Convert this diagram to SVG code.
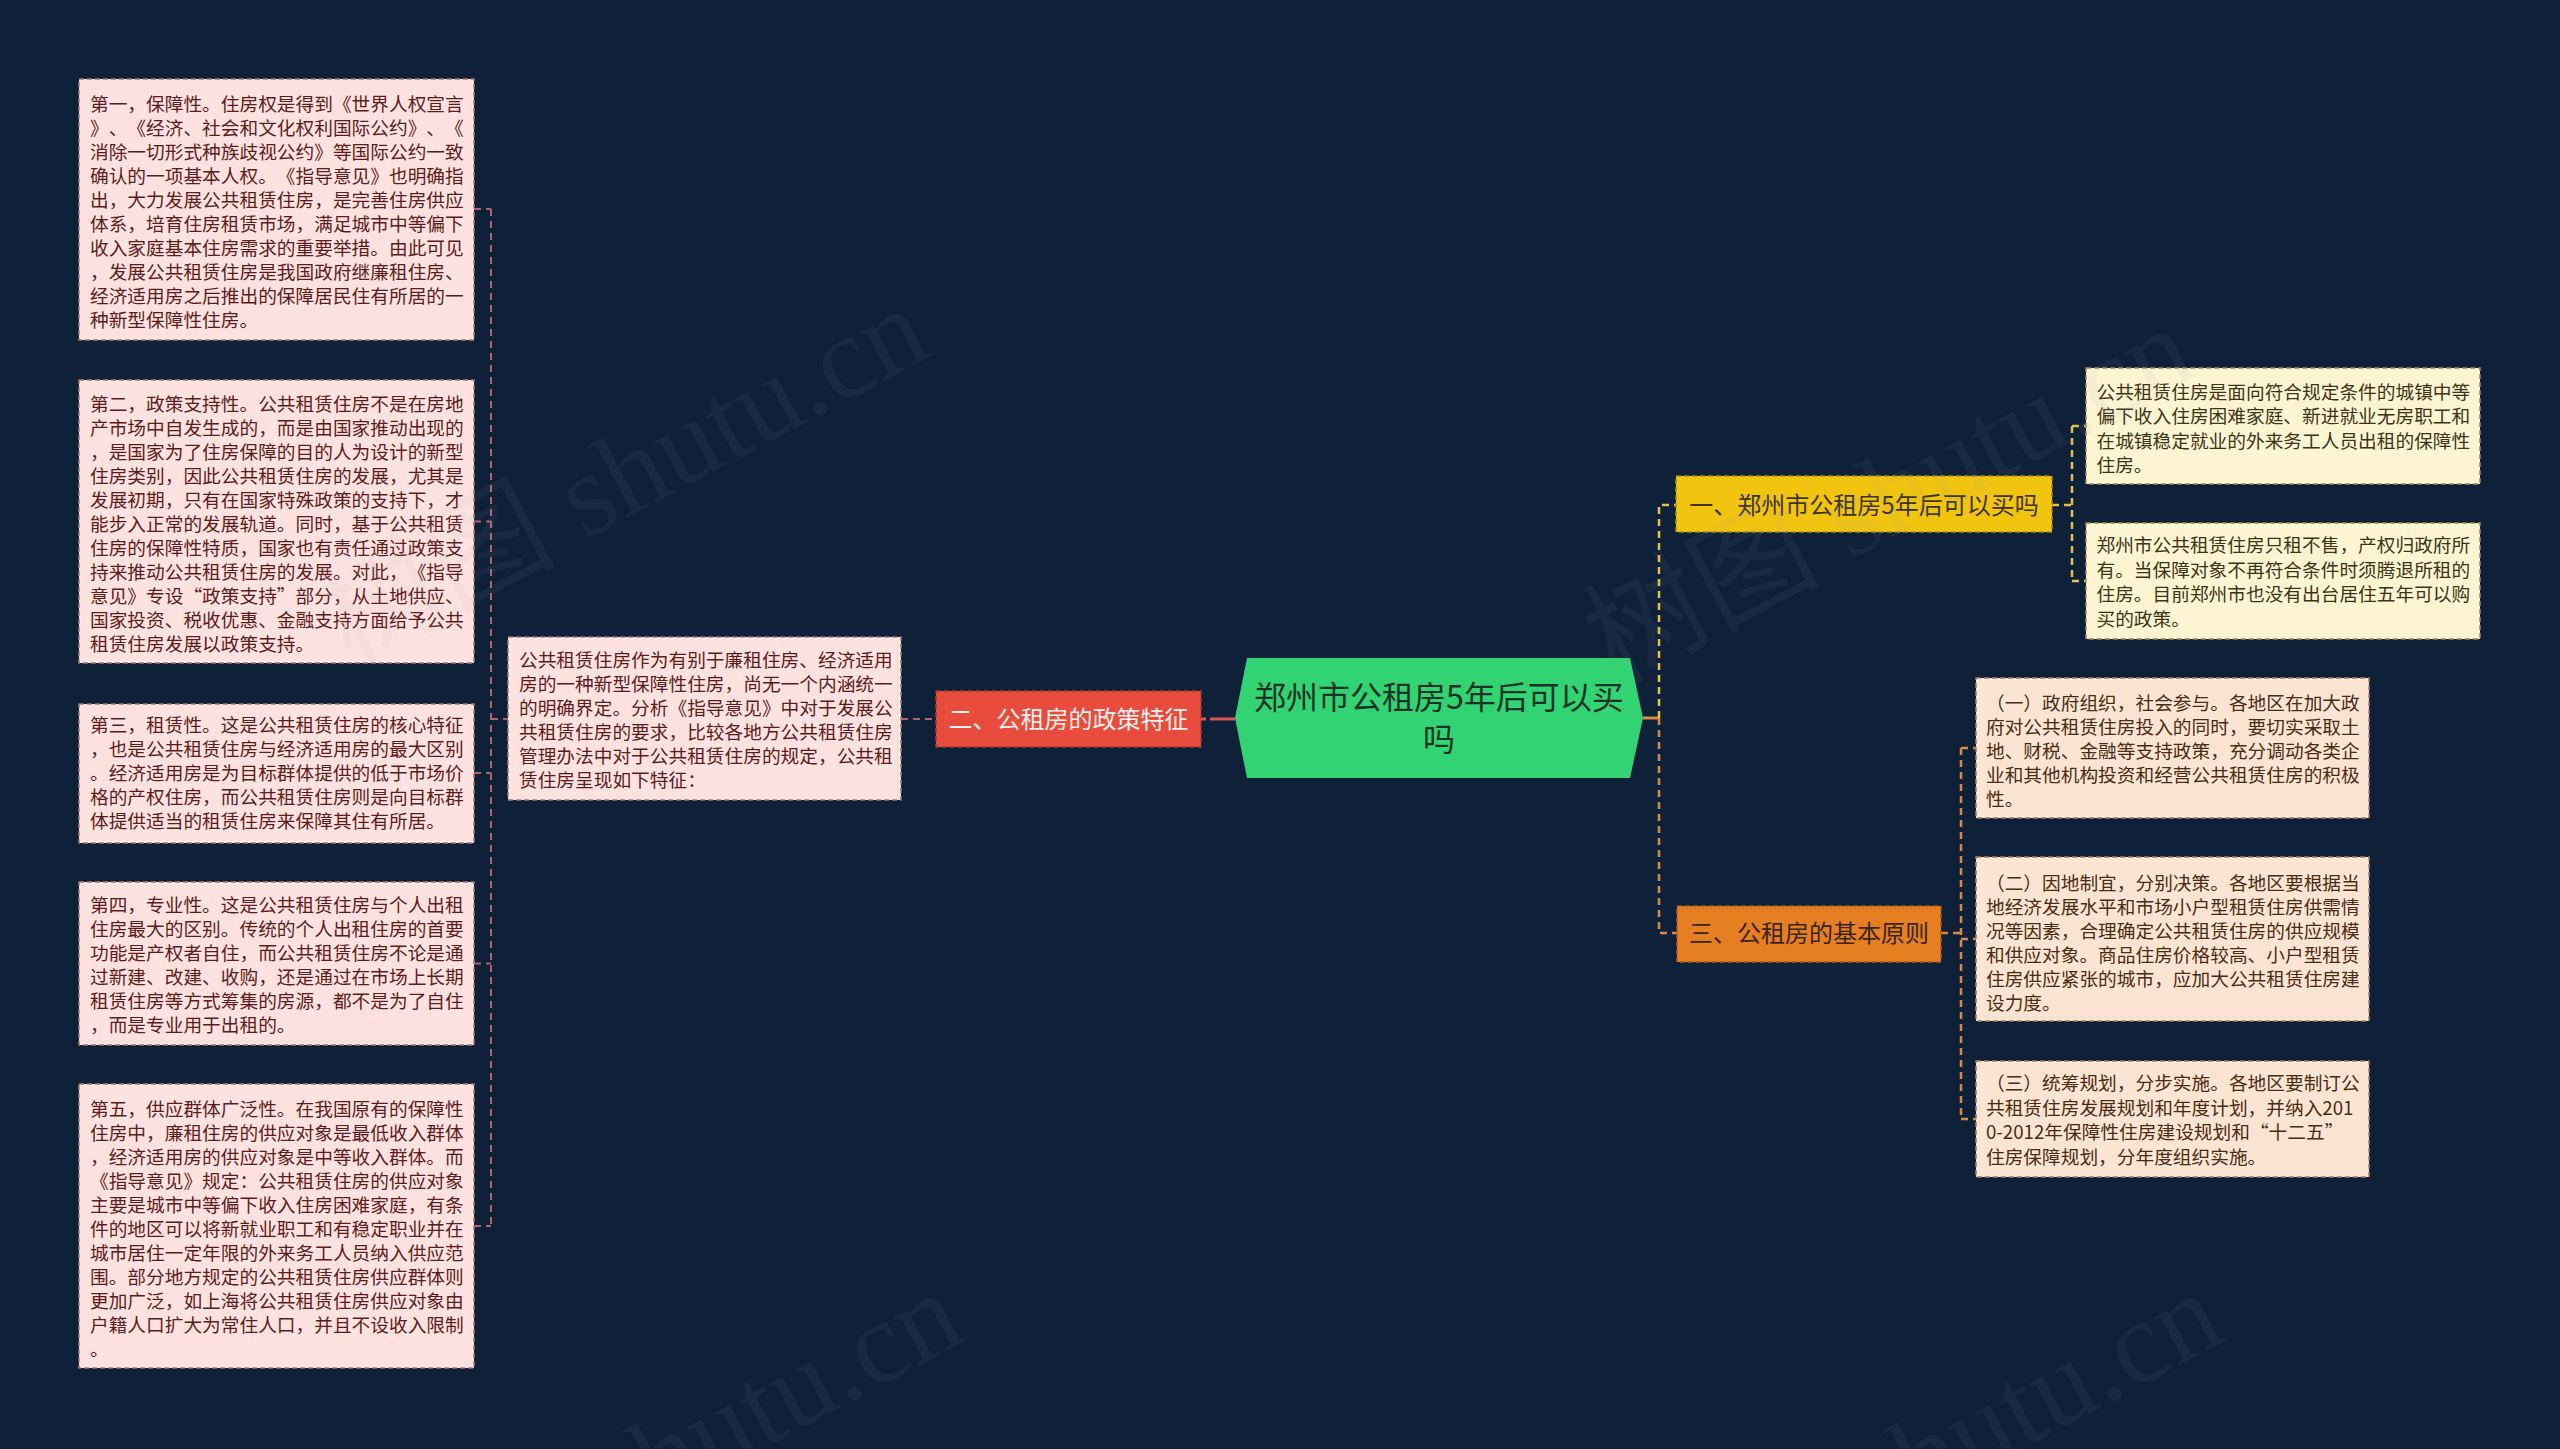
<svg xmlns="http://www.w3.org/2000/svg" width="2560" height="1449" viewBox="0 0 2560 1449">
<style>
text{text-spacing-trim:space-all;font-kerning:none}
.t{font-family:"Noto Sans CJK SC","Noto Sans",sans-serif;font-size:18.7px}
.pk rect{fill:#fde2df;stroke:#a07a7a;stroke-width:1.5;stroke-dasharray:5 3}
.pk text{fill:#5e1c1c}
.cr rect{fill:#fdf4d2;stroke:#9c8a5a;stroke-width:1.5;stroke-dasharray:5 3}
.cr text{fill:#3d3418}
.pc rect{fill:#fbe5d2;stroke:#a08060;stroke-width:1.5;stroke-dasharray:5 3}
.pc text{fill:#4a2c12}
.big{font-family:"Noto Sans CJK SC","Noto Sans",sans-serif;font-size:24px;text-anchor:middle}
.c path{fill:none}
.lr{stroke:#b0646a;stroke-width:2;stroke-dasharray:7 5}
.ly{stroke:#e2c24a;stroke-width:2.5;stroke-dasharray:7 5}
.lo{stroke:#d98a4a;stroke-width:2.5;stroke-dasharray:7 5}
.wm{font-family:"Liberation Serif","Noto Sans CJK SC",serif;font-size:118px;fill:#9aa3b5;opacity:0.07}
</style>
<rect width="2560" height="1449" fill="#0f2039"/>

<g id="connectors" class="c">
<path class="lr" d="M491 209 V1226 M474 209 H491 M474 521.5 H491 M474 773 H491 M474 963.5 H491 M474 1226 H491"/>
<path class="lr" d="M491 719 H508 M901 719 H936"/>
<path d="M1201 719 H1212" stroke="#d4584f" stroke-width="3" stroke-dasharray="5 4"/>
<path d="M1212 719 H1235" stroke="#d4584f" stroke-width="3"/>
<path d="M1643 718 H1659" stroke="#e08a3a" stroke-width="3"/>
<path class="ly" d="M1659 718 V505 H1676"/>
<path class="lo" d="M1659 718 V933 H1677"/>
<path class="ly" d="M2052 505 H2072 M2072 426 V581 M2072 426 H2086 M2072 581 H2086"/>
<path class="lo" d="M1941 933 H1961 M1961 748 V1119 M1961 748 H1976 M1961 939 H1976 M1961 1119 H1976"/>
</g>

<g id="root">
<polygon points="1235,718 1247,658 1630,658 1643,718 1630,778 1247,778" fill="#31d373"/>
<text font-family="Noto Sans CJK SC,sans-serif" font-size="32" fill="#1b3326" text-anchor="middle"><tspan x="1439" y="709">郑州市公租房5年后可以买</tspan><tspan x="1439" y="750.5">吗</tspan></text>
</g>

<g id="n-policy">
<rect x="936" y="691" width="265" height="56" fill="#e74c3c" stroke="#a8382e" stroke-width="1.5" stroke-dasharray="5 3"/>
<text class="big" x="1068.5" y="728" fill="#fdf0ee">二、公租房的政策特征</text>
</g>

<g id="n-buy">
<rect x="1676" y="476" width="376" height="56" fill="#f1c40f" stroke="#a88a10" stroke-width="1.5" stroke-dasharray="5 3"/>
<text class="big" x="1864" y="514" fill="#3d3418">一、郑州市公租房5年后可以买吗</text>
</g>

<g id="n-principle">
<rect x="1677" y="906" width="264" height="56" fill="#e67e22" stroke="#a85a18" stroke-width="1.5" stroke-dasharray="5 3"/>
<text class="big" x="1809" y="942" fill="#3a2510">三、公租房的基本原则</text>
</g>

<g id="p-intro" class="pk">
<rect x="508" y="637" width="393" height="163"/>
<text class="t"><tspan x="519" y="666.5">公共租赁住房作为有别于廉租住房、经济适用</tspan><tspan x="519" y="690.5">房的一种新型保障性住房，尚无一个内涵统一</tspan><tspan x="519" y="714.5">的明确界定。分析《指导意见》中对于发展公</tspan><tspan x="519" y="738.5">共租赁住房的要求，比较各地方公共租赁住房</tspan><tspan x="519" y="762.5">管理办法中对于公共租赁住房的规定，公共租</tspan><tspan x="519" y="786.5">赁住房呈现如下特征：</tspan></text>
</g>

<g id="p-1" class="pk">
<rect x="79" y="79" width="395" height="261"/>
<text class="t"><tspan x="90" y="110.5">第一，保障性。住房权是得到《世界人权宣言</tspan><tspan x="90" y="134.5">》、《经济、社会和文化权利国际公约》、《</tspan><tspan x="90" y="158.5">消除一切形式种族歧视公约》等国际公约一致</tspan><tspan x="90" y="182.5">确认的一项基本人权。《指导意见》也明确指</tspan><tspan x="90" y="206.5">出，大力发展公共租赁住房，是完善住房供应</tspan><tspan x="90" y="230.5">体系，培育住房租赁市场，满足城市中等偏下</tspan><tspan x="90" y="254.5">收入家庭基本住房需求的重要举措。由此可见</tspan><tspan x="90" y="278.5">，发展公共租赁住房是我国政府继廉租住房、</tspan><tspan x="90" y="302.5">经济适用房之后推出的保障居民住有所居的一</tspan><tspan x="90" y="326.5">种新型保障性住房。</tspan></text>
</g>

<g id="p-2" class="pk">
<rect x="79" y="380" width="395" height="283"/>
<text class="t"><tspan x="90" y="410.5">第二，政策支持性。公共租赁住房不是在房地</tspan><tspan x="90" y="434.5">产市场中自发生成的，而是由国家推动出现的</tspan><tspan x="90" y="458.5">，是国家为了住房保障的目的人为设计的新型</tspan><tspan x="90" y="482.5">住房类别，因此公共租赁住房的发展，尤其是</tspan><tspan x="90" y="506.5">发展初期，只有在国家特殊政策的支持下，才</tspan><tspan x="90" y="530.5">能步入正常的发展轨道。同时，基于公共租赁</tspan><tspan x="90" y="554.5">住房的保障性特质，国家也有责任通过政策支</tspan><tspan x="90" y="578.5">持来推动公共租赁住房的发展。对此，《指导</tspan><tspan x="90" y="602.5">意见》专设“政策支持”部分，从土地供应、</tspan><tspan x="90" y="626.5">国家投资、税收优惠、金融支持方面给予公共</tspan><tspan x="90" y="650.5">租赁住房发展以政策支持。</tspan></text>
</g>

<g id="p-3" class="pk">
<rect x="79" y="704" width="395" height="139"/>
<text class="t"><tspan x="90" y="732">第三，租赁性。这是公共租赁住房的核心特征</tspan><tspan x="90" y="756">，也是公共租赁住房与经济适用房的最大区别</tspan><tspan x="90" y="780">。经济适用房是为目标群体提供的低于市场价</tspan><tspan x="90" y="804">格的产权住房，而公共租赁住房则是向目标群</tspan><tspan x="90" y="828">体提供适当的租赁住房来保障其住有所居。</tspan></text>
</g>

<g id="p-4" class="pk">
<rect x="79" y="882" width="395" height="163"/>
<text class="t"><tspan x="90" y="912">第四，专业性。这是公共租赁住房与个人出租</tspan><tspan x="90" y="936">住房最大的区别。传统的个人出租住房的首要</tspan><tspan x="90" y="960">功能是产权者自住，而公共租赁住房不论是通</tspan><tspan x="90" y="984">过新建、改建、收购，还是通过在市场上长期</tspan><tspan x="90" y="1008">租赁住房等方式筹集的房源，都不是为了自住</tspan><tspan x="90" y="1032">，而是专业用于出租的。</tspan></text>
</g>

<g id="p-5" class="pk">
<rect x="79" y="1084" width="395" height="284"/>
<text class="t"><tspan x="90" y="1115.5">第五，供应群体广泛性。在我国原有的保障性</tspan><tspan x="90" y="1139.5">住房中，廉租住房的供应对象是最低收入群体</tspan><tspan x="90" y="1163.5">，经济适用房的供应对象是中等收入群体。而</tspan><tspan x="90" y="1187.5">《指导意见》规定：公共租赁住房的供应对象</tspan><tspan x="90" y="1211.5">主要是城市中等偏下收入住房困难家庭，有条</tspan><tspan x="90" y="1235.5">件的地区可以将新就业职工和有稳定职业并在</tspan><tspan x="90" y="1259.5">城市居住一定年限的外来务工人员纳入供应范</tspan><tspan x="90" y="1283.5">围。部分地方规定的公共租赁住房供应群体则</tspan><tspan x="90" y="1307.5">更加广泛，如上海将公共租赁住房供应对象由</tspan><tspan x="90" y="1331.5">户籍人口扩大为常住人口，并且不设收入限制</tspan><tspan x="90" y="1355.5">。</tspan></text>
</g>

<g id="b-1" class="cr">
<rect x="2086" y="368" width="394" height="116"/>
<text class="t"><tspan x="2096.5" y="398.5">公共租赁住房是面向符合规定条件的城镇中等</tspan><tspan x="2096.5" y="423">偏下收入住房困难家庭、新进就业无房职工和</tspan><tspan x="2096.5" y="447.5">在城镇稳定就业的外来务工人员出租的保障性</tspan><tspan x="2096.5" y="472">住房。</tspan></text>
</g>

<g id="b-2" class="cr">
<rect x="2086" y="523" width="394" height="116"/>
<text class="t"><tspan x="2096.5" y="552">郑州市公共租赁住房只租不售，产权归政府所</tspan><tspan x="2096.5" y="576.5">有。当保障对象不再符合条件时须腾退所租的</tspan><tspan x="2096.5" y="601">住房。目前郑州市也没有出台居住五年可以购</tspan><tspan x="2096.5" y="625.5">买的政策。</tspan></text>
</g>

<g id="r-1" class="pc">
<rect x="1976" y="678" width="393" height="140"/>
<text class="t"><tspan x="1986" y="710">（一）政府组织，社会参与。各地区在加大政</tspan><tspan x="1986" y="734">府对公共租赁住房投入的同时，要切实采取土</tspan><tspan x="1986" y="758">地、财税、金融等支持政策，充分调动各类企</tspan><tspan x="1986" y="782">业和其他机构投资和经营公共租赁住房的积极</tspan><tspan x="1986" y="806">性。</tspan></text>
</g>

<g id="r-2" class="pc">
<rect x="1976" y="857" width="393" height="164"/>
<text class="t"><tspan x="1986" y="889.5">（二）因地制宜，分别决策。各地区要根据当</tspan><tspan x="1986" y="913.5">地经济发展水平和市场小户型租赁住房供需情</tspan><tspan x="1986" y="937.5">况等因素，合理确定公共租赁住房的供应规模</tspan><tspan x="1986" y="961.5">和供应对象。商品住房价格较高、小户型租赁</tspan><tspan x="1986" y="985.5">住房供应紧张的城市，应加大公共租赁住房建</tspan><tspan x="1986" y="1009.5">设力度。</tspan></text>
</g>

<g id="r-3" class="pc">
<rect x="1976" y="1061" width="393" height="116"/>
<text class="t"><tspan x="1986" y="1090">（三）统筹规划，分步实施。各地区要制订公</tspan><tspan x="1986" y="1114.5">共租赁住房发展规划和年度计划，并纳入201</tspan><tspan x="1986" y="1139">0-2012年保障性住房建设规划和“十二五”</tspan><tspan x="1986" y="1163.5">住房保障规划，分年度组织实施。</tspan></text>
</g>

<g id="watermarks">
<text class="wm" transform="translate(350 665) rotate(-28)">树图 shutu.cn</text>
<text class="wm" transform="translate(1615 685) rotate(-28)">树图 shutu.cn</text>
<text class="wm" transform="translate(384 1650) rotate(-28)">树图 shutu.cn</text>
<text class="wm" transform="translate(1644 1650) rotate(-28)">树图 shutu.cn</text>
</g>
</svg>
